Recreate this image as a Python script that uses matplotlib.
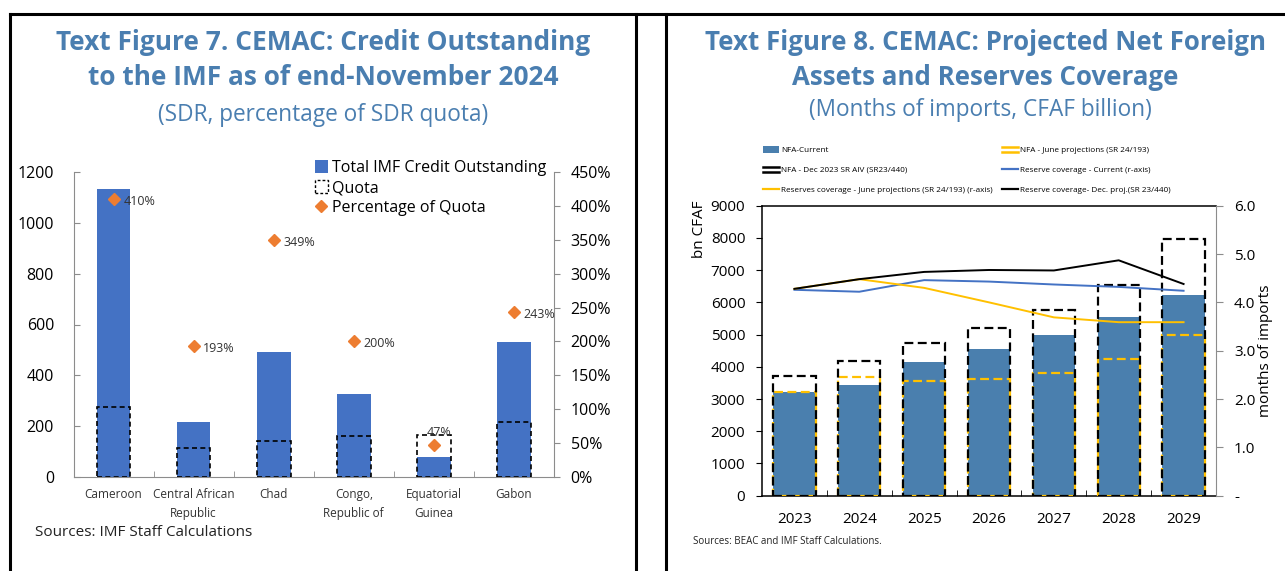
import matplotlib
matplotlib.use("Agg")
import matplotlib.pyplot as plt
import numpy as np
from matplotlib.patches import Patch
from matplotlib.lines import Line2D
from matplotlib.ticker import FuncFormatter
from matplotlib.legend_handler import HandlerBase

plt.rcParams['font.family'] = ['Open Sans', 'DejaVu Sans']

# ---------------- Data: Figure 7 ----------------
countries = ["Cameroon", "Central African\nRepublic", "Chad", "Congo,\nRepublic of",
             "Equatorial\nGuinea", "Gabon"]
credit_outstanding = [1133, 218, 493, 327, 78, 530]
quota = [277, 114, 141, 163, 166, 218]
pct_of_quota = [410, 193, 349, 200, 47, 243]

# ---------------- Data: Figure 8 ----------------
years = ["2023", "2024", "2025", "2026", "2027", "2028", "2029"]
nfa_current = [3217, 3445, 4148, 4541, 4986, 5555, 6238]
nfa_dec2023 = [3724, 4169, 4748, 5193, 5752, 6548, 7976]
nfa_june = [3228, 3683, 3548, 3610, 3797, 4241, 4996]
cov_current = [4.26, 4.22, 4.46, 4.43, 4.37, 4.32, 4.24]
cov_june = [4.28, 4.48, 4.30, 4.00, 3.69, 3.59, 3.59]
cov_dec = [4.28, 4.48, 4.63, 4.67, 4.66, 4.87, 4.38]

W, H = 1285, 571
fig = plt.figure(figsize=(W / 100, H / 100), dpi=100)

def box(x0, y0, x1, y1):
    return [x0 / W, 1 - y1 / H, (x1 - x0) / W, (y1 - y0) / H]

TITLE_C = '#4A7EB0'
GRAY = '#8C8C8C'

class DoubleLine(HandlerBase):
    """Legend handle: two stacked horizontal lines (edges of a dashed box)."""
    def __init__(self, color, lw=1.8):
        super().__init__()
        self.color, self.lw = color, lw

    def create_artists(self, legend, orig_handle, xdescent, ydescent, width, height,
                       fontsize, trans):
        arts = []
        for fy in (0.1, 0.8):
            y = -ydescent + height * fy
            arts.append(Line2D([-xdescent, -xdescent + width], [y, y], color=self.color,
                               lw=self.lw, transform=trans))
        return arts

# panel borders
for xs, ys in [([10 / W, 1], [1 - 14 / H, 1 - 14 / H]),
               ([10 / W, 10 / W], [0, 1 - 14 / H]),
               ([636 / W, 636 / W], [0, 1 - 14 / H]),
               ([666 / W, 666 / W], [0, 1 - 14 / H])]:
    fig.add_artist(Line2D(xs, ys, color='black', lw=2.2, transform=fig.transFigure))

# ---------------- Figure 7 ----------------
fig.text(323 / W, 1 - 42 / H, "Text Figure 7. CEMAC: Credit Outstanding", ha='center', va='center',
         fontsize=18.9, fontweight='bold', color=TITLE_C)
fig.text(323 / W, 1 - 78 / H, "to the IMF as of end-November 2024", ha='center', va='center',
         fontsize=18.9, fontweight='bold', color=TITLE_C)
fig.text(323 / W, 1 - 115 / H, "(SDR, percentage of SDR quota)", ha='center', va='center',
         fontsize=16.3, color=TITLE_C)

ax1 = fig.add_axes(box(73.5, 172, 554, 477))
x1 = np.arange(len(countries))
ax1.bar(x1, credit_outstanding, width=0.42, color='#4472C4', zorder=2)
ax1.bar(x1, quota, width=0.42, fill=False, edgecolor='black', lw=1.2,
        linestyle=(0, (3, 2)), zorder=3)
ax1.set_xlim(-0.5, len(countries) - 0.5)
ax1.set_ylim(0, 1200)
ax1.set_yticks(range(0, 1201, 200))
ax1.set_xticks(x1)
ax1.set_xticklabels(countries, fontsize=8.5, linespacing=1.6, color='#333333')
ax1.set_xticks(np.arange(0.5, len(countries) - 1, 1), minor=True)
ax1.tick_params(axis='x', which='major', length=0, pad=8)
ax1.tick_params(axis='x', which='minor', length=4, color=GRAY, direction='in')
ax1.tick_params(axis='y', length=4, direction='in', color=GRAY, labelsize=11.5, pad=14)
for s in ['top', 'right']:
    ax1.spines[s].set_visible(False)
for s in ['left', 'bottom']:
    ax1.spines[s].set_color(GRAY)

ax1b = ax1.twinx()
ax1b.set_ylim(0, 4.5)
ax1b.plot(x1, np.array(pct_of_quota) / 100, linestyle='none', marker='D',
          color='#ED7D31', markersize=6.5, zorder=5)
ax1b.set_yticks(np.arange(0, 4.51, 0.5))
ax1b.yaxis.set_major_formatter(FuncFormatter(lambda v, p: f"{v*100:.0f}%"))
ax1b.tick_params(axis='y', length=4, color=GRAY, labelsize=11.5, pad=8)
for s in ['top', 'left', 'bottom']:
    ax1b.spines[s].set_visible(False)
ax1b.spines['right'].set_color(GRAY)
for i, p in enumerate(pct_of_quota):
    if i == 4:
        off, ha = (4, 9), 'center'
    else:
        off, ha = (7, -1.5), 'left'
    ax1b.annotate(f"{p}%", (x1[i], p / 100), xytext=off, textcoords='offset points',
                  ha=ha, va='center', fontsize=9, color='#333333')

h1 = [Patch(facecolor='#4472C4', edgecolor='none'),
      Patch(facecolor='none', edgecolor='black', linestyle=(0, (2, 1.5)), lw=1.0),
      Line2D([], [], linestyle='none', marker='D', color='#ED7D31', markersize=6.5)]
leg1 = ax1b.legend(h1, ["Total IMF Credit Outstanding", "Quota", "Percentage of Quota"],
                   loc='upper left', bbox_to_anchor=(315 / W, 1 - 160 / H),
                   bbox_transform=fig.transFigure, frameon=False, fontsize=11.5,
                   handlelength=0.8, handleheight=0.9, handletextpad=0.25,
                   labelspacing=0.25, borderaxespad=0, borderpad=0)

fig.text(35 / W, 1 - 533 / H, "Sources: IMF Staff Calculations", ha='left', va='center',
         fontsize=11, color='#222222')

# ---------------- Figure 8 ----------------
fig.text(985 / W, 1 - 43 / H, "Text Figure 8. CEMAC: Projected Net Foreign", ha='center',
         va='center', fontsize=18.6, fontweight='bold', color=TITLE_C)
fig.text(985 / W, 1 - 78 / H, "Assets and Reserves Coverage", ha='center', va='center',
         fontsize=18.6, fontweight='bold', color=TITLE_C)
fig.text(980 / W, 1 - 110 / H, "(Months of imports, CFAF billion)", ha='center', va='center',
         fontsize=16.3, color=TITLE_C)

BAR_C = '#4A7FAE'
YEL = '#FFC000'
ax2 = fig.add_axes(box(762, 205.7, 1216, 495.7))
x2 = np.arange(len(years))
ax2.bar(x2, nfa_current, width=0.65, color=BAR_C, zorder=2)
ax2.bar(x2, nfa_june, width=0.65, fill=False, edgecolor=YEL, lw=1.6,
        linestyle=(3, (4, 2)), zorder=3)
ax2.bar(x2, nfa_dec2023, width=0.65, fill=False, edgecolor='black', lw=1.6,
        linestyle=(0, (4, 2)), zorder=4)
ax2.set_xlim(-0.5, len(years) - 0.5)
ax2.set_ylim(0, 9000)
ax2.set_yticks(range(0, 9001, 1000))
ax2.set_xticks(x2)
ax2.set_xticklabels(years, fontsize=11)
ax2.set_xticks(np.arange(0.5, len(years) - 1, 1), minor=True)
ax2.tick_params(axis='x', which='major', length=0, pad=12)
ax2.tick_params(axis='x', which='minor', length=4, direction='in', color='black')
ax2.tick_params(axis='y', length=4, direction='out', labelsize=11, pad=8)
ax2.spines['right'].set_visible(False)
for s in ['top', 'left', 'bottom']:
    ax2.spines[s].set_linewidth(1.1)
fig.text(700 / W, 1 - 229 / H, "bn CFAF", rotation=90, ha='center', va='center', fontsize=11)

ax2b = ax2.twinx()
ax2b.set_ylim(0, 6)
ax2b.plot(x2, cov_current, color='#4472C4', lw=1.4)
ax2b.plot(x2, cov_june, color=YEL, lw=1.4)
ax2b.plot(x2, cov_dec, color='black', lw=1.4)
ax2b.set_yticks(np.arange(0, 6.1, 1))
ax2b.yaxis.set_major_formatter(FuncFormatter(lambda v, p: "-" if v == 0 else f"{v:.1f}"))
ax2b.tick_params(axis='y', length=5, color=GRAY, labelsize=11, pad=8)
for s in ['top', 'left', 'bottom']:
    ax2b.spines[s].set_visible(False)
ax2b.spines['right'].set_color(GRAY)
ax2b.set_ylabel("months of imports", fontsize=11, labelpad=2)

leg_fs = 5.9
dec_handle = Patch(facecolor='none', edgecolor='black')
june_handle = Patch(facecolor='none', edgecolor=YEL)
hA = [Patch(facecolor=BAR_C, edgecolor='none'), dec_handle,
      Line2D([], [], color=YEL, lw=1.6)]
lA = ["NFA-Current", "NFA - Dec 2023 SR AIV (SR23/440)",
      "Reserves coverage - June projections (SR 24/193) (r-axis)"]
hB = [june_handle, Line2D([], [], color='#4472C4', lw=1.6),
      Line2D([], [], color='black', lw=1.6)]
lB = ["NFA - June projections (SR 24/193)", "Reserve coverage - Current (r-axis)",
      "Reserve coverage- Dec. proj.(SR 23/440)"]
hmap = {dec_handle: DoubleLine('black'), june_handle: DoubleLine(YEL)}
legA = ax2b.legend(hA, lA, loc='upper left', bbox_to_anchor=(763 / W, 1 - 146 / H),
                   bbox_transform=fig.transFigure, frameon=False, fontsize=leg_fs,
                   handlelength=2.0, handleheight=0.9, handletextpad=0.2,
                   labelspacing=1.4, borderaxespad=0, borderpad=0, handler_map=hmap)
ax2b.add_artist(legA)
ax2b.legend(hB, lB, loc='upper left', bbox_to_anchor=(1002 / W, 1 - 146 / H),
            bbox_transform=fig.transFigure, frameon=False, fontsize=leg_fs,
            handlelength=2.0, handleheight=0.9, handletextpad=0.2,
            labelspacing=1.4, borderaxespad=0, borderpad=0, handler_map=hmap)

fig.text(693 / W, 1 - 542 / H, "Sources: BEAC and IMF Staff Calculations.", ha='left',
         va='center', fontsize=7, color='#222222')

fig.savefig("out.png", dpi=100)
